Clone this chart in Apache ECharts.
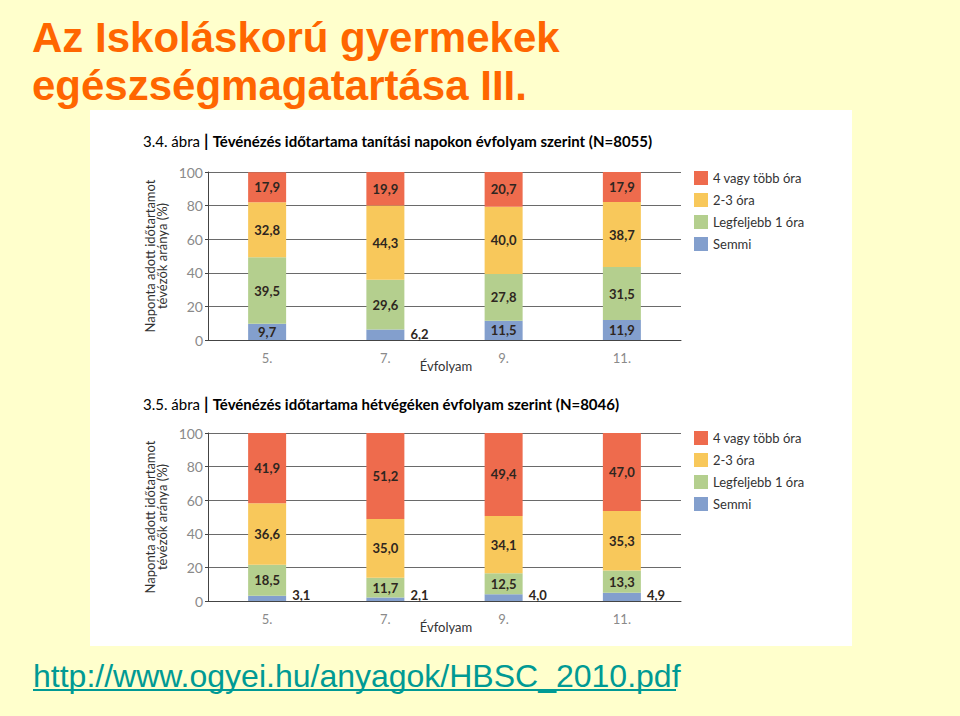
<!DOCTYPE html>
<html>
<head>
<meta charset="utf-8">
<script src="https://cdn.jsdelivr.net/npm/echarts@6/dist/echarts.min.js"></script>
<style>
html,body{margin:0;padding:0;background:#FFFFCC;}
#c{width:960px;height:716px;}
</style>
</head>
<body>
<div id="c"></div>
<script>
const categories = ['5.', '7.', '9.', '11.'];
const seriesNames = ['Semmi', 'Legfeljebb 1 óra', '2-3 óra', '4 vagy több óra'];
const legendOrder = ['4 vagy több óra', '2-3 óra', 'Legfeljebb 1 óra', 'Semmi'];
const colors = ['#839FCD', '#B4CF8E', '#F8C85B', '#EE6B4D'];
const yTicks = [0, 20, 40, 60, 80, 100];

// 3.4 ábra – tanítási napokon
const wdSemmi = [9.7, 6.2, 11.5, 11.9];
const wdLegf1 = [39.5, 29.6, 27.8, 31.5];
const wd23 = [32.8, 44.3, 40.0, 38.7];
const wd4 = [17.9, 19.9, 20.7, 17.9];

// 3.5 ábra – hétvégéken
const weSemmi = [3.1, 2.1, 4.0, 4.9];
const weLegf1 = [18.5, 11.7, 12.5, 13.3];
const we23 = [36.6, 35.0, 34.1, 35.3];
const we4 = [41.9, 51.2, 49.4, 47.0];

const fmt = v => v.toFixed(1).replace('.', ',');
const FONT = 'Lato';

function makeSeries(arrs, idx, stack) {
  return arrs.map((arr, i) => ({
    name: seriesNames[i],
    type: 'bar',
    stack: stack,
    xAxisIndex: idx,
    yAxisIndex: idx,
    barWidth: 38,
    itemStyle: { color: colors[i] },
    emphasis: { disabled: true },
    label: {
      show: true,
      position: 'inside',
      formatter: p => fmt(p.value),
      color: '#2e2620',
      fontWeight: 'bold',
      fontSize: 13,
      fontFamily: FONT
    },
    data: arr.map(v => (i === 0 && v < 8) ? {
      value: v,
      label: { position: ['100%', '100%'], align: 'left', verticalAlign: 'bottom', offset: [6, 0] }
    } : v)
  }));
}

const grids = [{ left: 208, width: 473, top: 172, height: 168 }, { left: 208, width: 473, top: 433, height: 168 }];

function xAxis(i) {
  return {
    type: 'category', gridIndex: i, data: categories,
    axisLine: { lineStyle: { color: '#444', width: 1 } },
    axisTick: { show: false },
    axisLabel: { color: '#8a8a8a', fontSize: 13, margin: 11, fontFamily: FONT }
  };
}
function yAxis(i) {
  return {
    type: 'value', gridIndex: i, min: yTicks[0], max: yTicks[yTicks.length - 1], interval: 20,
    axisLine: { show: true, lineStyle: { color: '#444', width: 1 } },
    axisTick: { show: true, length: 3, lineStyle: { color: '#444' } },
    axisLabel: { color: '#8a8a8a', fontSize: 14, margin: 5, fontFamily: FONT },
    splitLine: { lineStyle: { color: '#6a6a6a', width: 1 } }
  };
}

function chartTitle(y, num, text) {
  return {
    type: 'text', left: 143, top: y - 10,
    style: {
      text: '{a|' + num + '}{b| | }{c|' + text + '}',
      rich: {
        a: { fontSize: 15, color: '#777', fontFamily: FONT },
        b: { fontSize: 17, color: '#333', fontWeight: 'bold', fontFamily: FONT },
        c: { fontSize: 15, color: '#333', fontWeight: 'bold', fontFamily: FONT }
      }
    }
  };
}
function yName(cy) {
  return {
    type: 'text', x: 156, y: cy, rotation: Math.PI / 2,
    style: {
      text: 'Naponta adott időtartamot\ntévézők aránya (%)',
      fontSize: 13, lineHeight: 12, fill: '#333', fontFamily: FONT,
      align: 'center', verticalAlign: 'middle'
    }
  };
}
function xName(cy) {
  return {
    type: 'text', x: 446, y: cy,
    style: { text: 'Évfolyam', fontSize: 13, fill: '#333', fontFamily: FONT, align: 'center', verticalAlign: 'middle' }
  };
}

function legend(top) {
  return {
    data: legendOrder, orient: 'vertical', left: 694, top: top, padding: 0,
    icon: 'rect', itemWidth: 14, itemHeight: 14, itemGap: 8,
    selectedMode: false,
    textStyle: { color: '#333', fontSize: 13, fontFamily: FONT, padding: [0, 0, 0, 0] }
  };
}

const chart = echarts.init(document.getElementById('c'), null, { renderer: 'svg' });
chart.setOption({
  animation: false,
  backgroundColor: 'transparent',
  grid: grids,
  xAxis: [xAxis(0), xAxis(1)],
  yAxis: [yAxis(0), yAxis(1)],
  legend: [legend(171), legend(431)],
  series: [
    ...makeSeries([wdSemmi, wdLegf1, wd23, wd4], 0, 'wd'),
    ...makeSeries([weSemmi, weLegf1, we23, we4], 1, 'we')
  ],
  graphic: [
    { type: 'rect', z: -10, shape: { x: 90, y: 110, width: 762, height: 536 }, style: { fill: '#ffffff' } },
    { type: 'text', x: 32, y: 37, style: { text: 'Az Iskoláskorú gyermekek', fontSize: 42, fontWeight: 'bold', fill: '#FF6600', fontFamily: 'Liberation Sans', verticalAlign: 'middle' } },
    { type: 'text', x: 32, y: 85, style: { text: 'egészségmagatartása III.', fontSize: 42, fontWeight: 'bold', fill: '#FF6600', fontFamily: 'Liberation Sans', verticalAlign: 'middle' } },
    chartTitle(142, '3.4. ábra', 'Tévénézés időtartama tanítási napokon évfolyam szerint (N=8055)'),
    chartTitle(405, '3.5. ábra', 'Tévénézés időtartama hétvégéken évfolyam szerint (N=8046)'),
    yName(256), yName(517),
    xName(366), xName(627),
    { type: 'text', x: 33, y: 676, style: { text: 'http://www.ogyei.hu/anyagok/HBSC_2010.pdf', fontSize: 32, fill: '#009A94', fontFamily: 'Liberation Sans', verticalAlign: 'middle' } },
    { type: 'line', shape: { x1: 33, y1: 690, x2: 676, y2: 690 }, style: { stroke: '#009A94', lineWidth: 2 } }
  ]
});
</script>
</body>
</html>
